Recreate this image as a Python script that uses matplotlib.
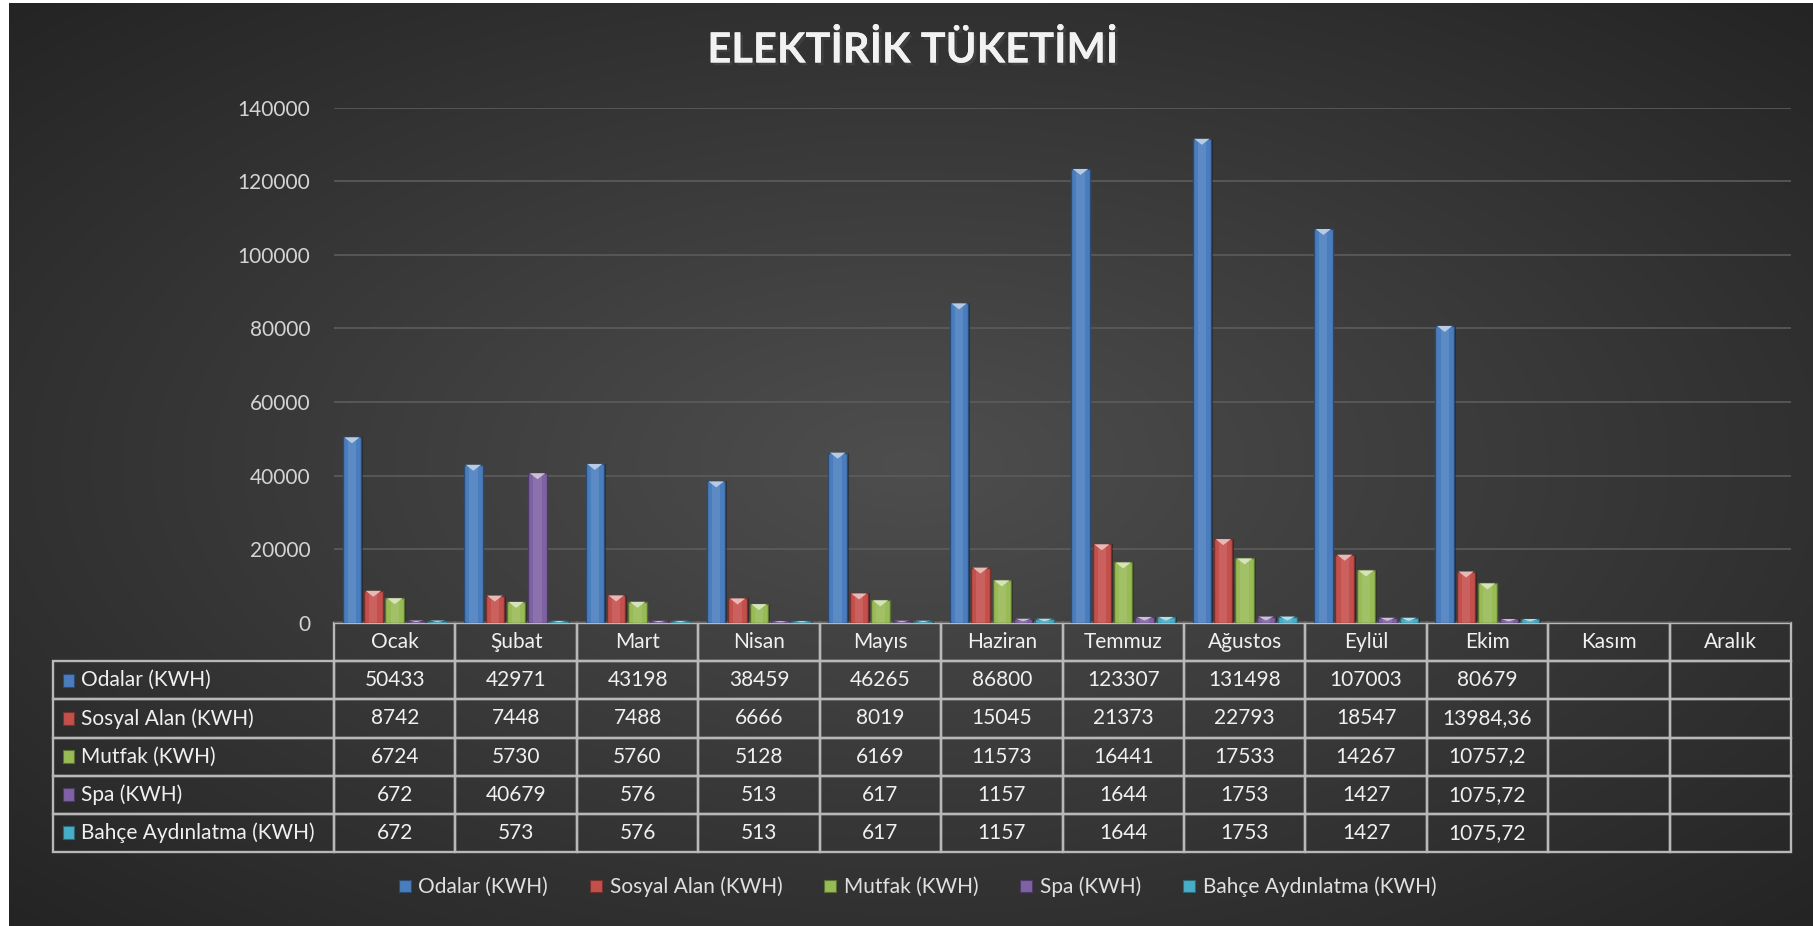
import numpy as np
import matplotlib.pyplot as plt
from matplotlib.patches import Polygon, Rectangle
from matplotlib.lines import Line2D
from matplotlib import patheffects as pe
import matplotlib.colors as mcolors

plt.rcParams['font.family'] = ['Lato', 'DejaVu Sans']

months = ['Ocak', 'Şubat', 'Mart', 'Nisan', 'Mayıs', 'Haziran', 'Temmuz',
          'Ağustos', 'Eylül', 'Ekim', 'Kasım', 'Aralık']
series_names = ['Odalar (KWH)', 'Sosyal Alan (KWH)', 'Mutfak (KWH)',
                'Spa (KWH)', 'Bahçe Aydınlatma (KWH)']
odalar = [50433, 42971, 43198, 38459, 46265, 86800, 123307, 131498, 107003, 80679, None, None]
sosyal = [8742, 7448, 7488, 6666, 8019, 15045, 21373, 22793, 18547, 13984.36, None, None]
mutfak = [6724, 5730, 5760, 5128, 6169, 11573, 16441, 17533, 14267, 10757.2, None, None]
spa = [672, 40679, 576, 513, 617, 1157, 1644, 1753, 1427, 1075.72, None, None]
bahce = [672, 573, 576, 513, 617, 1157, 1644, 1753, 1427, 1075.72, None, None]
yticks = [0, 20000, 40000, 60000, 80000, 100000, 120000, 140000]

series = [odalar, sosyal, mutfak, spa, bahce]
colors = ['#4a7dbe', '#c4504c', '#98bb55', '#7f62a4', '#48aec8']

W, H = 1813, 926
fig = plt.figure(figsize=(W / 100, H / 100), dpi=100, facecolor='white')

# dark radial background
bg = fig.add_axes([9 / W, 0, 1 - 9 / W, 1 - 3 / H], zorder=-10)
yy, xx = np.mgrid[-1:1:400j, -1:1:800j]
r = np.sqrt(xx ** 2 + yy ** 2) / np.sqrt(2)
shade = (78 - 42 * r) / 255.0
img = np.dstack([shade, shade, shade])
bg.imshow(img, aspect='auto', extent=[0, 1, 0, 1])
bg.set_axis_off()

# main axes
ax_l, ax_r = 334 / W, 1791 / W
ax_b, ax_t = 1 - 623 / H, 1 - 107.5 / H
ax = fig.add_axes([ax_l, ax_b, ax_r - ax_l, ax_t - ax_b])
ax.set_facecolor('none')
ax.set_xlim(-0.5, 11.5)
ax.set_ylim(0, 140000)
ax.set_yticks(yticks)
ax.set_yticklabels([str(t) for t in yticks])
ax.set_xticks([])
ax.tick_params(axis='y', length=0, pad=17, labelsize=15, labelcolor='#d4d4d4')
for s in ax.spines.values():
    s.set_visible(False)
ax.yaxis.grid(True, color='#5c5c5c', lw=1.2)
ax.set_axisbelow(True)

pitch = 0.176
bw = 0.152
px_h = 140000 / (H * (ax_t - ax_b))  # data units per pixel

for j, (vals, c) in enumerate(zip(series, colors)):
    idx = [i for i, v in enumerate(vals) if v is not None]
    x = np.array(idx) + (j - 2) * pitch
    v = np.array([vals[i] for i in idx], dtype=float)
    dark = np.array(mcolors.to_rgb(c)) * 0.6
    light = np.array(mcolors.to_rgb(c)) * 0.4 + 0.6
    ax.bar(x + 0.014, v, bw, color='black', alpha=0.35, zorder=2, lw=0)
    ax.bar(x, v, bw, color=c, edgecolor=dark, lw=1.0, zorder=3)
    ax.bar(x, v, bw * 0.45, color='white', alpha=0.1, lw=0, zorder=4)
    for xc, val in zip(x, v):
        th = min(6 * px_h, val * 0.6)
        hw = bw * 0.42
        tri = Polygon([(xc - hw, val), (xc + hw, val), (xc, val - th)],
                      closed=True, color=light, lw=0, zorder=5)
        ax.add_patch(tri)


def fmt(v):
    if v is None:
        return ''
    if float(v) == int(v):
        return str(int(v))
    return str(v).replace('.', ',')


cell_text = [[name] + [fmt(v) for v in vals] for name, vals in zip(series_names, series)]
lab_w = 281.0
col_w = (1791 - 334) / 12.0
widths = [lab_w] + [col_w] * 12
tot = sum(widths)
tbl_x0 = -lab_w / (1791 - 334)
tbl_h = (852 - 623) / (H * (ax_t - ax_b))
tbl = ax.table(cellText=cell_text, colLabels=[''] + months,
               colWidths=[w_ / tot for w_ in widths], cellLoc='center',
               bbox=[tbl_x0, -tbl_h, 1 - tbl_x0, tbl_h])
tbl.auto_set_font_size(False)
tbl.set_fontsize(15)
for (rr, cc), cell in tbl.get_celld().items():
    cell.set_facecolor('none')
    cell.set_edgecolor('#b8b8b8')
    cell.set_linewidth(1.7)
    cell.get_text().set_color('#f0f0f0')
    if rr == 0 and cc == 0:
        cell.visible_edges = ''
    if cc == 0 and rr > 0:
        cell._loc = 'left'
        cell.get_text().set_ha('left')
        cell.PAD = 28 / lab_w

# markers in row labels
row_h = tbl_h / 6
for j, c in enumerate(colors):
    yc = -row_h * (j + 1.5)
    mx = tbl_x0 + 10 / (1791 - 334)
    mw = 11 / (1791 - 334)
    mh = 13 / (H * (ax_t - ax_b))
    ax.add_patch(Rectangle((mx, yc - mh / 2), mw, mh, transform=ax.transAxes,
                           facecolor=c, edgecolor=np.array(mcolors.to_rgb(c)) * 0.6,
                           lw=0.8, clip_on=False))

handles = [Line2D([], [], linestyle='none', marker='s', markersize=9, markerfacecolor=c,
                  markeredgecolor=np.array(mcolors.to_rgb(c)) * 0.6, markeredgewidth=0.8)
           for c in colors]
fig.legend(handles, series_names, loc='center', bbox_to_anchor=(0.506, 1 - 887 / H),
           ncol=5, frameon=False, fontsize=15, labelcolor='#e0e0e0',
           handlelength=0.6, handletextpad=0.35, columnspacing=2.0)

fig.text(913 / W, 1 - 50 / H, 'ELEKTİRİK TÜKETİMİ', ha='center', va='center',
         fontsize=30, fontweight='bold', color='#f2f2f2',
         path_effects=[pe.withSimplePatchShadow(offset=(2, -2), alpha=0.6), pe.Normal()])

fig.savefig('out.png', dpi=100, facecolor=fig.get_facecolor())
